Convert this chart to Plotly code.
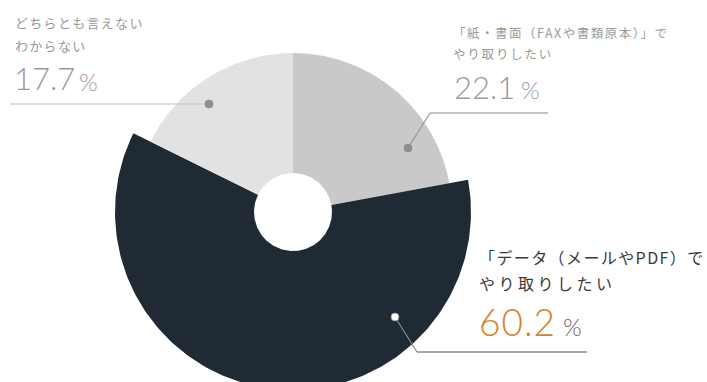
import numpy as np
import plotly.graph_objects as go

# ---- data ----
categories = ["「紙・書面（FAXや書類原本）」でやり取りしたい",
              "「データ（メールやPDF）でやり取りしたい",
              "どちらとも言えない／わからない"]
values = [22.1, 60.2, 17.7]
label_line1 = ["「紙・書面（FAXや書類原本）」で", "「データ（メールやPDF）で", "どちらとも言えない"]
label_line2 = ["やり取りしたい", "やり取りしたい", "わからない"]
value_labels = ["22.1", "60.2", "17.7"]

# ---- styling ----
W, H = 707, 382
CX, CY = 293, 212
HOLE = 39
RADII = [159, 178, 159]
COLORS = ["#c9c9c9", "#202a35", "#e2e2e2"]
TXT_FONT = "Noto Sans CJK JP"
NUM_FONT = "Lato"

fig = go.Figure()

total = sum(values)
start = 0.0
for v, r, c, name in zip(values, RADII, COLORS, categories):
    a0 = start / total * 2 * np.pi
    a1 = (start + v) / total * 2 * np.pi
    start += v
    t = np.linspace(a0, a1, 200)
    xo = CX + r * np.sin(t)
    yo = CY - r * np.cos(t)
    xi = CX + HOLE * np.sin(t[::-1])
    yi = CY - HOLE * np.cos(t[::-1])
    fig.add_trace(go.Scatter(
        x=np.concatenate([xo, xi, xo[:1]]),
        y=np.concatenate([yo, yi, yo[:1]]),
        mode="lines", fill="toself", fillcolor=c,
        line=dict(width=0, color=c), name=name, hoverinfo="skip",
    ))

shapes = []
def seg(x0, y0, x1, y1, col, w=1.3):
    shapes.append(dict(type="line", xref="x", yref="y", x0=x0, y0=y0, x1=x1, y1=y1,
                       line=dict(color=col, width=w), layer="above"))

def dot(x, y, col, r=4, lc=None):
    shapes.append(dict(type="circle", xref="x", yref="y", x0=x - r, x1=x + r, y0=y - r, y1=y + r,
                       fillcolor=col, line=dict(color=lc or col, width=0.8), layer="above"))

seg(10, 104, 209, 104, "#cfcfcf")
dot(209, 104, "#8e8e8e")
seg(548, 113, 430, 113, "#b0b0b0")
seg(430, 113, 408, 148, "#9a9a9a")
dot(408, 148, "#8e8e8e")
seg(587, 352, 417, 352, "#8a8a8a", 1.5)
seg(417, 352, 395, 317, "#8a8a8a", 1.2)
dot(395, 317, "#ffffff", lc="#8a8a8a")

ann = []
def txt(x, y, s, size, col, fam=TXT_FONT, weight=None, ls=None):
    f = dict(family=fam, size=size, color=col)
    if weight:
        f["weight"] = weight
    if ls:
        s = "<span style='letter-spacing:%.1fpx'>%s</span>" % (ls, s)
    ann.append(dict(x=x, y=y, xref="x", yref="y", text=s, showarrow=False,
                    xanchor="left", yanchor="middle", font=f))

# paper slice (22.1)
txt(451, 32, label_line1[0], 12.5, "#9a9a9a", ls=1.5)
txt(451, 53, label_line2[0], 12.5, "#9a9a9a", ls=1.8)
txt(452, 87, value_labels[0], 31, "#9a9a9a", NUM_FONT, 300)
txt(519, 89, "%", 24, "#9a9a9a", NUM_FONT, 300)
# data slice (60.2)
txt(477, 257, label_line1[1], 16, "#3a3a3a", ls=1.4)
txt(477, 283, label_line2[1], 16, "#3a3a3a", ls=3.5)
txt(477, 321, value_labels[1], 37, "#d4832a", NUM_FONT, 300, ls=1)
txt(561, 326, "%", 24, "#666666", NUM_FONT, 300)
# neither (17.7)
txt(13, 22, label_line1[2], 13, "#9a9a9a", ls=1.3)
txt(13, 45, label_line2[2], 13, "#9a9a9a", ls=1.3)
txt(12, 78, value_labels[2], 31, "#9a9a9a", NUM_FONT, 300)
txt(77, 81, "%", 24, "#9a9a9a", NUM_FONT, 300)

fig.update_layout(
    width=W, height=H, margin=dict(l=0, r=0, t=0, b=0),
    paper_bgcolor="white", plot_bgcolor="white", showlegend=False,
    xaxis=dict(range=[0, W], visible=False, fixedrange=True),
    yaxis=dict(range=[H, 0], visible=False, fixedrange=True),
    shapes=shapes, annotations=ann,
)
fig.write_html("out.html")
